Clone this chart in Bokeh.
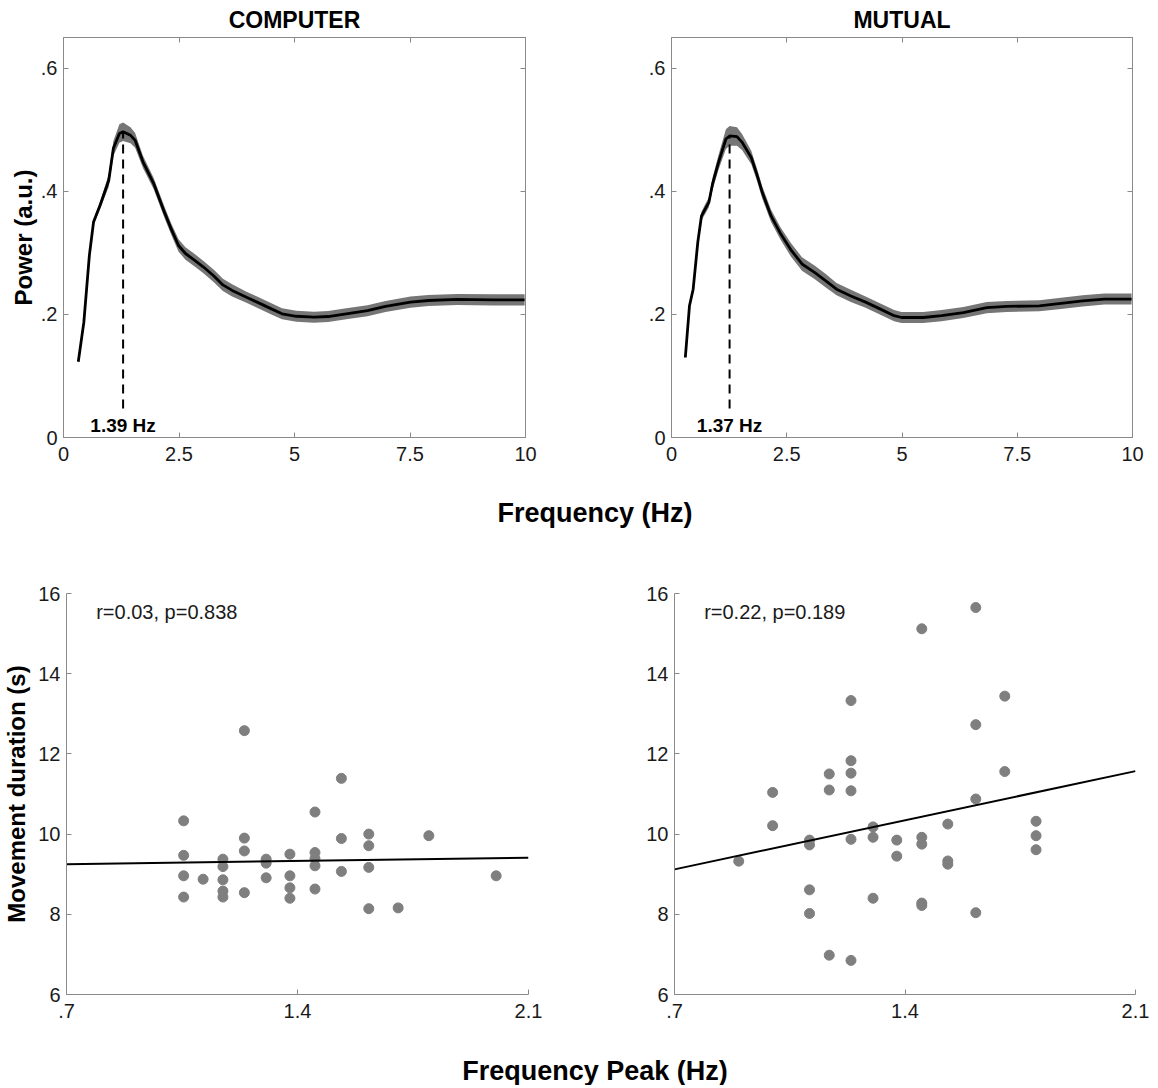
import numpy as np
from bokeh.plotting import figure
from bokeh.models import FixedTicker, LinearAxis, Range1d, CustomJSTickFormatter
from bokeh.layouts import column, row
from bokeh.embed import file_html
from bokeh.resources import INLINE
from bokeh.core.properties import value

# ---------------- data ----------------
# Power spectra (mean and SE band), COMPUTER condition
freq_c = [0.32, 0.44, 0.56, 0.65, 0.79, 0.93, 0.98, 1.08, 1.21, 1.29, 1.45, 1.55, 1.72,
          1.95, 2.18, 2.33, 2.49, 2.64, 2.84, 3.03, 3.26, 3.45, 3.65, 3.96, 4.19, 4.50,
          4.73, 5.04, 5.42, 5.73, 6.12, 6.58, 6.97, 7.51, 7.90, 8.52, 9.29, 9.98]
power_c = [0.123, 0.187, 0.296, 0.350, 0.377, 0.407, 0.418, 0.470, 0.494, 0.497, 0.491,
           0.483, 0.448, 0.413, 0.367, 0.339, 0.312, 0.299, 0.288, 0.277, 0.262, 0.248,
           0.239, 0.228, 0.220, 0.209, 0.201, 0.197, 0.1955, 0.1966, 0.201, 0.206, 0.213,
           0.220, 0.2226, 0.2243, 0.2237, 0.2237]
se_c = [0.002, 0.003, 0.004, 0.005, 0.006, 0.009, 0.010, 0.012, 0.015, 0.015, 0.013, 0.012,
        0.010, 0.009, 0.009, 0.009, 0.010, 0.010, 0.010, 0.010, 0.010, 0.010, 0.010, 0.009,
        0.009, 0.009, 0.009, 0.009, 0.009, 0.009, 0.009, 0.009, 0.009, 0.009, 0.009, 0.009,
        0.009, 0.009]

# Power spectra, MUTUAL condition
freq_m = [0.30, 0.39, 0.47, 0.57, 0.65, 0.73, 0.81, 0.89, 1.02, 1.18, 1.26, 1.42, 1.53,
          1.73, 1.85, 1.97, 2.16, 2.36, 2.59, 2.83, 3.11, 3.34, 3.58, 3.89, 4.21, 4.52,
          4.83, 4.99, 5.46, 5.86, 6.33, 6.84, 7.27, 7.98, 8.45, 8.92, 9.39, 9.98]
power_m = [0.130, 0.214, 0.241, 0.317, 0.360, 0.371, 0.382, 0.412, 0.447, 0.485, 0.490,
           0.489, 0.480, 0.455, 0.428, 0.398, 0.360, 0.332, 0.305, 0.282, 0.268, 0.255,
           0.241, 0.230, 0.220, 0.209, 0.198, 0.195, 0.195, 0.198, 0.203, 0.211, 0.213,
           0.214, 0.218, 0.222, 0.225, 0.225]
se_m = [0.002, 0.003, 0.004, 0.006, 0.007, 0.008, 0.008, 0.010, 0.012, 0.016, 0.016, 0.015,
        0.013, 0.011, 0.010, 0.010, 0.010, 0.010, 0.011, 0.011, 0.011, 0.011, 0.010, 0.010,
        0.009, 0.009, 0.009, 0.009, 0.009, 0.009, 0.009, 0.009, 0.009, 0.009, 0.009, 0.009,
        0.009, 0.009]

peak_label_c = "1.39 Hz"
peak_label_m = "1.37 Hz"

# Scatter: frequency peak vs movement duration, COMPUTER
peak_comp = [1.055, 1.055, 1.055, 1.055, 1.114, 1.174, 1.174, 1.174, 1.174, 1.174,
             1.239, 1.239, 1.239, 1.239, 1.305, 1.305, 1.305, 1.377, 1.377, 1.377, 1.377,
             1.453, 1.453, 1.453, 1.453, 1.453, 1.533, 1.533, 1.533, 1.616, 1.616, 1.616,
             1.616, 1.705, 1.798, 2.002]
dur_comp = [10.33, 9.47, 8.96, 8.43, 8.875, 9.375, 9.19, 8.86, 8.58, 8.43,
            12.58, 9.90, 9.58, 8.54, 9.375, 9.275, 8.91, 9.50, 8.96, 8.66, 8.40,
            10.55, 9.54, 9.39, 9.21, 8.63, 11.39, 9.89, 9.07, 10.0, 9.71, 9.17,
            8.14, 8.16, 9.96, 8.96]

# Scatter, MUTUAL
peak_mut = [0.895, 0.998, 0.998, 1.110, 1.110, 1.110, 1.110, 1.170, 1.170, 1.170,
            1.236, 1.236, 1.236, 1.236, 1.236, 1.236, 1.303, 1.303, 1.303, 1.375, 1.375,
            1.451, 1.451, 1.451, 1.451, 1.451, 1.530, 1.530, 1.530, 1.615, 1.615, 1.615,
            1.615, 1.703, 1.703, 1.798, 1.798, 1.798]
dur_mut = [9.325, 11.04, 10.21, 9.85, 9.73, 8.61, 8.02, 11.5, 11.1, 6.98,
           13.33, 11.83, 11.52, 11.08, 9.87, 6.85, 10.18, 9.92, 8.40, 9.85, 9.45,
           15.12, 9.92, 9.75, 8.28, 8.22, 10.25, 9.33, 9.25, 15.65, 12.73, 10.875,
           8.04, 13.44, 11.56, 10.32, 9.96, 9.61]

fit_x = [0.7, 2.1]
fit_comp = [9.25, 9.41]
fit_mut = [9.12, 11.57]
stats_comp = "r=0.03, p=0.838"
stats_mut = "r=0.22, p=0.189"

# ticks
spec_xticks = [0, 2.5, 5, 7.5, 10]
spec_xlabels = ["0", "2.5", "5", "7.5", "10"]
spec_yticks = [0, 0.2, 0.4, 0.6]
spec_ylabels = ["0", ".2", ".4", ".6"]
sc_xticks = [0.7, 1.4, 2.1]
sc_xlabels = [".7", "1.4", "2.1"]
sc_yticks = [6, 8, 10, 12, 14, 16]
sc_ylabels = ["6", "8", "10", "12", "14", "16"]

# ---------------- style ----------------
FONT = "Liberation Sans"
AX_GRAY = "#8a8a8a"
TXT = "#1a1a1a"
DOT = "#7f7f7f"
BAND = "#767676"


def style_axis(ax, ticks, labels, standoff, label_standoff=1):
    ax.ticker = FixedTicker(ticks=ticks)
    ax.major_label_overrides = dict(zip(ticks, labels))
    ax.axis_line_color = AX_GRAY
    ax.major_tick_line_color = AX_GRAY
    ax.major_tick_in = 5
    ax.major_tick_out = 0
    ax.minor_tick_line_color = None
    ax.major_label_text_font = FONT
    ax.major_label_text_font_size = "20px"
    ax.major_label_text_color = TXT
    ax.major_label_standoff = standoff
    ax.axis_label_text_font = FONT
    ax.axis_label_text_font_style = "bold"
    ax.axis_label_text_font_size = "24px"
    ax.axis_label_text_color = "#000000"
    ax.axis_label_standoff = label_standoff


def box_axis(p, place, ticks):
    ax = LinearAxis(ticker=FixedTicker(ticks=ticks),
                    formatter=CustomJSTickFormatter(code="return ''"))
    ax.axis_line_color = AX_GRAY
    ax.major_tick_line_color = AX_GRAY
    ax.major_tick_in = 5
    ax.major_tick_out = 0
    ax.minor_tick_line_color = None
    ax.major_label_standoff = 0
    ax.major_label_text_font_size = "1px"
    p.add_layout(ax, place)


def spectrum_fig(title, freq, power, se, peak_label, left, right, ylab):
    p = figure(frame_width=462 if left < 70 else 461, frame_height=400,
               x_range=Range1d(0, 10), y_range=Range1d(0, 0.65),
               toolbar_location=None, output_backend="svg",
               min_border_left=left, min_border_right=right,
               min_border_top=28, min_border_bottom=44,
               title=title)
    p.title.align = "center"
    p.title.text_font = FONT
    p.title.text_font_size = "23px"
    p.title.text_font_style = "bold"
    p.title.text_color = "#000000"
    p.title.standoff = 9
    p.grid.visible = False
    p.outline_line_color = AX_GRAY
    p.background_fill_color = "white"
    p.border_fill_color = "white"
    style_axis(p.xaxis[0], spec_xticks, spec_xlabels, 9)
    style_axis(p.yaxis[0], spec_yticks, spec_ylabels, 6, 1)
    if ylab:
        p.yaxis[0].axis_label = ylab
    box_axis(p, "above", spec_xticks)
    box_axis(p, "right", spec_yticks)

    f = np.array(freq)
    pw = np.array(power)
    s = np.array(se)
    p.varea(x=f, y1=pw - s, y2=pw + s, fill_color=BAND, fill_alpha=1.0)
    p.line(f, pw, line_color="black", line_width=2.8)
    k = int(np.argmax(pw))
    p.segment(x0=[f[k]], y0=[0.047], x1=[f[k]], y1=[pw[k]],
              line_color="black", line_width=2, line_dash="9 6")
    p.text(x=[f[k]], y=[0.02], text=[peak_label], text_align="center",
           text_baseline="middle", text_font=value(FONT),
           text_font_style="bold", text_font_size="19px", text_color="black")
    return p


def scatter_fig(xs, ys, fit_y, stats, left, right, ylab):
    p = figure(frame_width=462 if left < 70 else 461, frame_height=401,
               x_range=Range1d(0.7, 2.1), y_range=Range1d(6, 16),
               toolbar_location=None, output_backend="svg",
               min_border_left=left, min_border_right=right,
               min_border_top=47, min_border_bottom=37)
    p.grid.visible = False
    p.outline_line_color = None
    p.background_fill_color = "white"
    p.border_fill_color = "white"
    style_axis(p.xaxis[0], sc_xticks, sc_xlabels, 9)
    style_axis(p.yaxis[0], sc_yticks, sc_ylabels, 6, 5)
    if ylab:
        p.yaxis[0].axis_label = ylab
    p.scatter(xs, ys, size=10, fill_color=DOT, line_color=DOT)
    p.line(fit_x, fit_y, line_color="black", line_width=2)
    p.text(x=[0.79], y=[15.55], text=[stats], text_align="left",
           text_baseline="middle", text_font=value(FONT),
           text_font_size="20px", text_color=TXT)
    return p


def label_fig(text, h, yfrac):
    p = figure(width=1150, height=h, x_range=Range1d(0, 1), y_range=Range1d(0, 1),
               toolbar_location=None, output_backend="svg",
               x_axis_location=None, y_axis_location=None, min_border=0)
    p.grid.visible = False
    p.outline_line_color = None
    p.border_fill_color = "white"
    p.text(x=[0.517], y=[yfrac], text=[text], text_align="center",
           text_baseline="middle", text_font=value(FONT),
           text_font_style="bold", text_font_size="27px", text_color="black")
    return p


p1 = spectrum_fig("COMPUTER", freq_c, power_c, se_c, peak_label_c, 63, 70, "Power (a.u.)")
p2 = spectrum_fig("MUTUAL", freq_m, power_m, se_m, peak_label_m, 76, 17, None)
p3 = scatter_fig(peak_comp, dur_comp, fit_comp, stats_comp, 63, 70, "Movement duration (s)")
p4 = scatter_fig(peak_mut, dur_mut, fit_mut, stats_mut, 76, 17, None)
lab1 = label_fig("Frequency (Hz)", 65, 0.523)
lab2 = label_fig("Frequency Peak (Hz)", 54, 0.26)

layout = column(row(p1, p2), lab1, row(p3, p4), lab2)

with open("out.html", "w") as fh:
    fh.write(file_html(layout, INLINE))
